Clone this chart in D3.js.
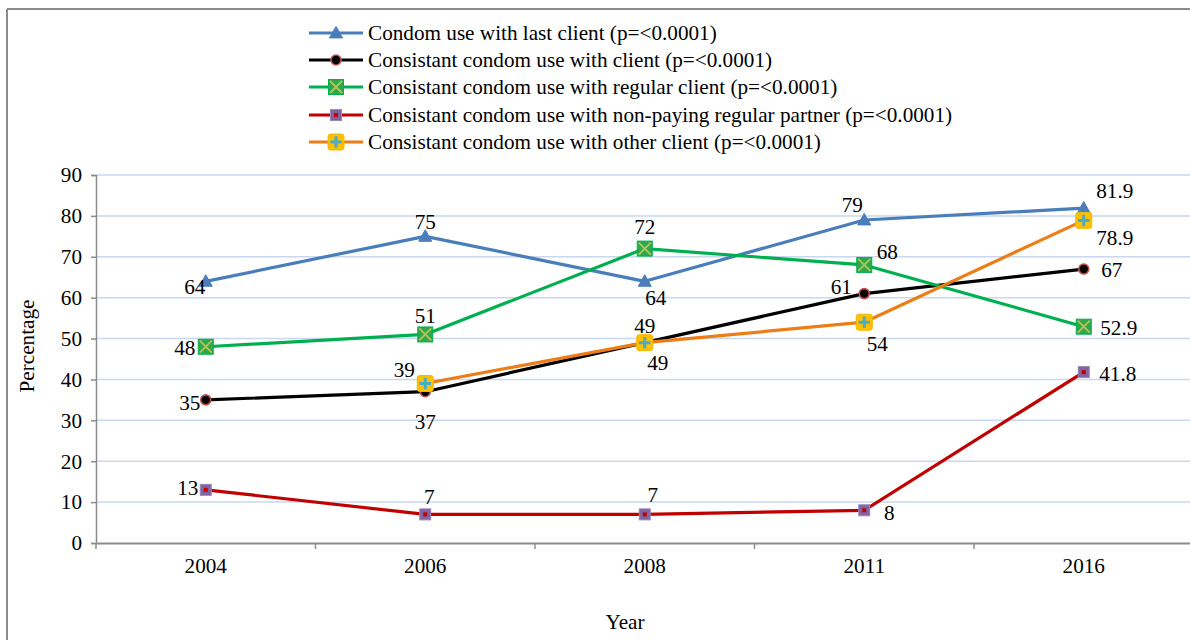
<!DOCTYPE html>
<html>
<head>
<meta charset="utf-8">
<script src="https://cdn.jsdelivr.net/npm/d3@7"></script>
<style>
  html, body { margin: 0; padding: 0; background: #fff; }
  svg { display: block; font-family: "Liberation Serif", "Times New Roman", serif; }
</style>
</head>
<body>
<svg id="chart" width="1190" height="640"></svg>
<script>
// ---- data ----
const years = ["2004", "2006", "2008", "2011", "2016"];
const lastClient = [64, 75, 64, 79, 81.9];
const consistentClient = [35, 37, 49, 61, 67];
const regularClient = [48, 51, 72, 68, 52.9];
const nonPayingPartner = [13, 7, 7, 8, 41.8];
const otherClient = [null, 39, 49, 54, 78.9];
const yTicks = [0, 10, 20, 30, 40, 50, 60, 70, 80, 90];
const seriesNames = [
  "Condom use with last client (p=<0.0001)",
  "Consistant condom use with client (p=<0.0001)",
  "Consistant condom use with regular client (p=<0.0001)",
  "Consistant condom use with non-paying regular partner (p=<0.0001)",
  "Consistant condom use with other client (p=<0.0001)"
];

// ---- styling / label placement (not data) ----
const FS = 21.2;
const styles = [
  { color: "#4a7ebb", marker: "triangle", labelOff: [[-11,5],[0,-15],[11,16],[-12,-15],[31,-18]] },
  { color: "#000000", marker: "circle",   labelOff: [[-16,3],[0,30],[0,-17],[-23,-7],[28,1]] },
  { color: "#00b050", marker: "xsquare",  labelOff: [[-21,1],[0,-19],[0,-22],[23,-13],[35,1]] },
  { color: "#c00000", marker: "psquare",  labelOff: [[-18,-2],[4,-18],[8,-20],[25,2],[34,1]] },
  { color: "#ed7d16", marker: "plussq",   labelOff: [[0,0],[-21,-14],[13,20],[13,21],[31,17]] }
];
const seriesData = [lastClient, consistentClient, regularClient, nonPayingPartner, otherClient];

const svg = d3.select("#chart");

// frame
svg.append("line").attr("x1", 7).attr("x2", 1190).attr("y1", 9).attr("y2", 9)
  .attr("stroke", "#8c8c8c").attr("stroke-width", 2);
svg.append("line").attr("x1", 7).attr("x2", 7).attr("y1", 9).attr("y2", 640)
  .attr("stroke", "#8c8c8c").attr("stroke-width", 2);

const left = 96, bandW = 219.5;
const x = d3.scaleBand().domain(years).range([left, left + bandW * years.length]).paddingInner(0).paddingOuter(0);
const y = d3.scaleLinear().domain([0, 90]).range([543, 175]);
const cx = d => x(d) + x.bandwidth() / 2;

// gridlines
svg.append("g").selectAll("line").data(yTicks.filter(t => t > 0)).join("line")
  .attr("x1", left).attr("x2", left + bandW * years.length)
  .attr("y1", d => y(d)).attr("y2", d => y(d))
  .attr("stroke", "#c9d8ee").attr("stroke-width", 1.5);

// y axis
const yAxis = d3.axisLeft(y).tickValues(yTicks).tickSize(5).tickPadding(9);
const gy = svg.append("g").attr("transform", `translate(${left},0)`).call(yAxis);
gy.attr("font-family", null).attr("font-size", null);
gy.select(".domain").attr("stroke", "#8c8c8c").attr("stroke-width", 1.5);
gy.selectAll(".tick line").attr("stroke", "#8c8c8c").attr("stroke-width", 1.5);
gy.selectAll(".tick text").attr("font-size", FS).attr("fill", "#000");

// x axis
const gx = svg.append("g").attr("transform", `translate(0,${y(0)})`)
  .call(d3.axisBottom(x).tickSize(0).tickPadding(15));
gx.attr("font-family", null).attr("font-size", null);
gx.select(".domain").attr("stroke", "#8c8c8c").attr("stroke-width", 2);
gx.selectAll(".tick text").attr("font-size", FS).attr("fill", "#000");
// boundary ticks
const bounds = years.map(d => x(d));
svg.append("g").selectAll("line").data(bounds).join("line")
  .attr("x1", d => d).attr("x2", d => d).attr("y1", y(0)).attr("y2", y(0) + 6)
  .attr("stroke", "#8c8c8c").attr("stroke-width", 1.5);

// axis titles
svg.append("text").attr("transform", `translate(34,346) rotate(-90)`)
  .attr("text-anchor", "middle").attr("font-size", FS).text("Percentage");
svg.append("text").attr("x", 625).attr("y", 629)
  .attr("text-anchor", "middle").attr("font-size", FS).text("Year");

// markers
function drawMarker(g, type, px, py) {
  if (type === "triangle") {
    const h = 11, w = 13;
    g.append("path").attr("d", `M${px},${py - h*0.6} L${px + w/2},${py + h*0.45} L${px - w/2},${py + h*0.45} Z`)
      .attr("fill", "#4a7ebb").attr("stroke", "#4a7ebb").attr("stroke-width", 1);
  } else if (type === "circle") {
    g.append("circle").attr("cx", px).attr("cy", py).attr("r", 5)
      .attr("fill", "#000").attr("stroke", "#c0504d").attr("stroke-width", 1.6);
  } else if (type === "xsquare") {
    const h = 7.5;
    g.append("rect").attr("x", px - h).attr("y", py - h).attr("width", 2*h).attr("height", 2*h)
      .attr("fill", "#2ea84a").attr("stroke", "#00b050").attr("stroke-width", 1);
    const k = h * 0.8;
    g.append("path").attr("d", `M${px-k},${py-k} L${px+k},${py+k} M${px+k},${py-k} L${px-k},${py+k}`)
      .attr("stroke", "#b5c45a").attr("stroke-width", 1.8);
  } else if (type === "psquare") {
    const h = 5.5;
    g.append("rect").attr("x", px - h).attr("y", py - h).attr("width", 2*h).attr("height", 2*h)
      .attr("fill", "#8064a2").attr("stroke", "#9b86b8").attr("stroke-width", 1);
    g.append("rect").attr("x", px - 2).attr("y", py - 2).attr("width", 4).attr("height", 4)
      .attr("fill", "#c00000");
  } else if (type === "plussq") {
    const h = 8;
    g.append("rect").attr("x", px - h).attr("y", py - h).attr("width", 2*h).attr("height", 2*h)
      .attr("rx", 2.5).attr("fill", "#ffc000").attr("stroke", "#f5b800").attr("stroke-width", 1);
    const k = h * 0.72;
    g.append("path").attr("d", `M${px-k},${py} L${px+k},${py} M${px},${py-k} L${px},${py+k}`)
      .attr("stroke", "#4bacc6").attr("stroke-width", 3);
  }
}

// lines
const line = d3.line().defined(d => d.v != null).x(d => cx(d.year)).y(d => y(d.v));
const plot = svg.append("g");
seriesData.forEach((vals, i) => {
  const pts = years.map((yr, j) => ({ year: yr, v: vals[j] }));
  plot.append("path").datum(pts).attr("d", line)
    .attr("fill", "none").attr("stroke", styles[i].color).attr("stroke-width", 3.2)
    .attr("stroke-linejoin", "round");
});
seriesData.forEach((vals, i) => {
  const g = plot.append("g");
  years.forEach((yr, j) => {
    if (vals[j] == null) return;
    drawMarker(g, styles[i].marker, cx(yr), y(vals[j]));
  });
});
// labels
seriesData.forEach((vals, i) => {
  years.forEach((yr, j) => {
    if (vals[j] == null) return;
    const [dx, dy] = styles[i].labelOff[j];
    svg.append("text").attr("x", cx(yr) + dx).attr("y", y(vals[j]) + dy)
      .attr("dy", "0.35em").attr("text-anchor", "middle").attr("font-size", FS)
      .text(vals[j]);
  });
});

// legend
const legY = [33, 60, 87, 115, 142];
seriesNames.forEach((name, i) => {
  const g = svg.append("g");
  g.append("line").attr("x1", 309).attr("x2", 363).attr("y1", legY[i]).attr("y2", legY[i])
    .attr("stroke", styles[i].color).attr("stroke-width", 3.2);
  drawMarker(g, styles[i].marker, 336, legY[i]);
  g.append("text").attr("x", 368).attr("y", legY[i]).attr("dy", "0.35em")
    .attr("font-size", FS).text(name);
});
</script>
</body>
</html>
